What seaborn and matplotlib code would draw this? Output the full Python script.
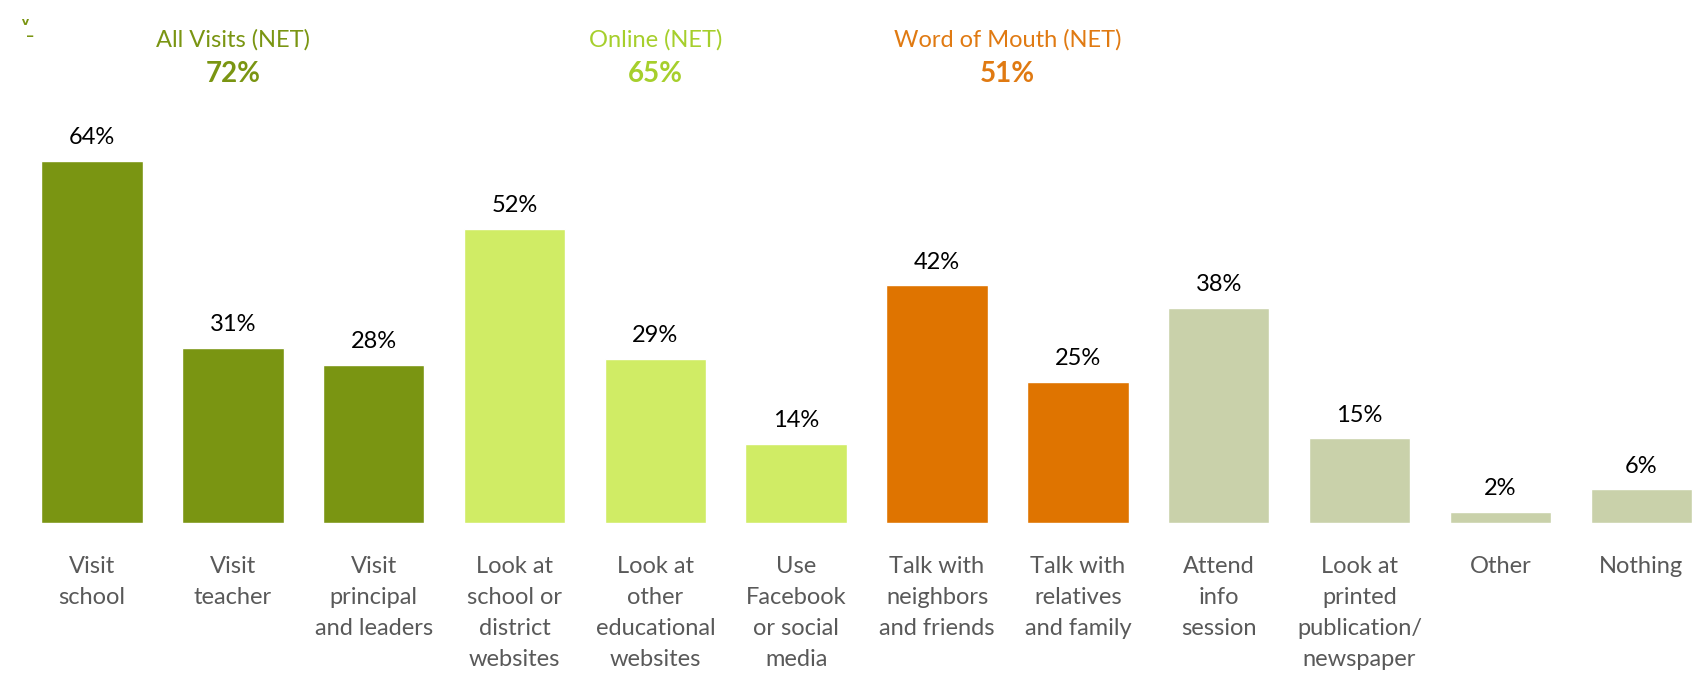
import numpy as np
import pandas as pd
import seaborn as sns
import matplotlib.pyplot as plt

# data
categories = ["Visit\nschool", "Visit\nteacher", "Visit\nprincipal\nand leaders",
              "Look at\nschool or\ndistrict\nwebsites", "Look at\nother\neducational\nwebsites",
              "Use\nFacebook\nor social\nmedia", "Talk with\nneighbors\nand friends",
              "Talk with\nrelatives\nand family", "Attend\ninfo\nsession",
              "Look at\nprinted\npublication/\nnewspaper", "Other", "Nothing"]
values = [64, 31, 28, 52, 29, 14, 42, 25, 38, 15, 2, 6]
groups = ["visit"] * 3 + ["online"] * 3 + ["mouth"] * 2 + ["other"] * 4

net_titles = ["All Visits (NET)", "Online (NET)", "Word of Mouth (NET)"]
net_values = ["72%", "65%", "51%"]
net_centers = [1, 4, 6.5]

bar_colors = {"visit": "#7a9512", "online": "#d0ec65", "mouth": "#df7400", "other": "#c9d1aa"}
net_colors = ["#7a9512", "#a6cf2c", "#e07a12"]

df = pd.DataFrame({"cat": categories, "val": values, "grp": groups})

sns.set_theme(style="white")
plt.rcParams['font.family'] = ['Lato', 'DejaVu Sans']

fig = plt.figure(figsize=(17.06, 6.75), dpi=100)
ax = fig.add_axes([0, 0.225, 1, 0.775])

sns.barplot(data=df, x="cat", y="val", hue="cat", order=categories,
            palette=[bar_colors[g] for g in groups], legend=False,
            width=0.72, saturation=1, ax=ax)

ax.set_xlim(-0.653, 11.46)
ax.set_ylim(0, 92.4)

for i, v in enumerate(values):
    ax.annotate(f"{v}%", (i, v), xytext=(0, 9), textcoords="offset points",
                ha="center", va="bottom", fontsize=17, color="black")

for t, v, c, col in zip(net_titles, net_values, net_centers, net_colors):
    ax.text(c, 85.3, t, ha="center", va="center", fontsize=17, color=col)
    ax.text(c, 79.3, v, ha="center", va="center", fontsize=20, fontweight="bold", color=col)

# small mark in the top left corner
fig.text(0.012, 0.962, "ᵛ", fontsize=13, fontweight="bold", color="#7a9512",
         family=["DejaVu Sans"], ha="left", va="center")
fig.text(0.016, 0.955, "_", fontsize=9, fontweight="bold", color="#7a9512",
         family=["DejaVu Sans"], ha="left", va="center")

ax.set_xticks(range(len(categories)))
ax.set_xticklabels(categories, fontsize=17, color="#595959", linespacing=1.58, va="top")
ax.tick_params(axis="x", length=0, pad=24)
ax.set_yticks([])
ax.set_xlabel("")
ax.set_ylabel("")
sns.despine(ax=ax, left=True, bottom=True, top=True, right=True)

fig.savefig("out.png", dpi=100)
